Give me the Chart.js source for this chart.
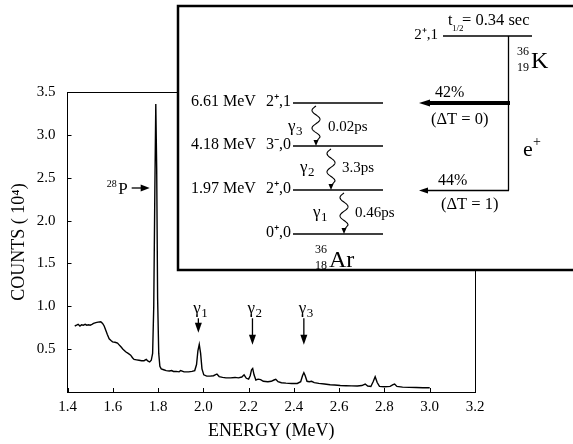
<!DOCTYPE html>
<html><head><meta charset="utf-8">
<script src="https://cdn.jsdelivr.net/npm/chart.js@4/dist/chart.umd.min.js"></script>
<style>html,body{margin:0;padding:0;background:#fff}</style>
</head><body>
<canvas id="c" width="573" height="444" style="display:block;width:573px;height:444px"></canvas>
<script>
// ---- spectrum data (energy in MeV, counts in units of 10^4) ----
const energy = [1.432,1.440,1.447,1.455,1.462,1.470,1.478,1.485,1.493,1.500,1.508,1.515,1.525,1.535,1.547,1.555,1.562,1.569,1.576,1.584,1.592,1.599,1.610,1.621,1.628,1.635,1.645,1.657,1.668,1.679,1.687,1.694,1.705,1.716,1.727,1.738,1.748,1.756,1.763,1.770,1.776,1.781,1.786,1.790,1.794,1.798,1.803,1.808,1.814,1.825,1.836,1.850,1.860,1.868,1.880,1.893,1.900,1.915,1.935,1.950,1.962,1.970,1.976,1.982,1.988,1.994,2.002,2.015,2.030,2.045,2.060,2.070,2.085,2.100,2.120,2.140,2.155,2.170,2.180,2.190,2.200,2.207,2.213,2.218,2.224,2.232,2.242,2.253,2.265,2.285,2.300,2.312,2.320,2.330,2.345,2.365,2.390,2.415,2.430,2.438,2.444,2.450,2.458,2.468,2.478,2.490,2.510,2.535,2.560,2.580,2.605,2.630,2.655,2.680,2.700,2.715,2.726,2.740,2.750,2.759,2.768,2.778,2.800,2.825,2.838,2.845,2.855,2.880,2.910,2.940,2.970,3.000];
const counts = [0.77,0.78,0.79,0.77,0.785,0.78,0.79,0.78,0.785,0.78,0.79,0.80,0.81,0.815,0.82,0.80,0.77,0.72,0.67,0.62,0.60,0.585,0.58,0.57,0.55,0.53,0.50,0.47,0.45,0.43,0.40,0.38,0.375,0.37,0.365,0.365,0.38,0.36,0.35,0.37,0.45,1.0,2.4,3.36,2.6,1.1,0.45,0.30,0.27,0.26,0.25,0.245,0.25,0.24,0.24,0.235,0.25,0.235,0.235,0.24,0.25,0.32,0.48,0.555,0.45,0.27,0.20,0.185,0.185,0.19,0.21,0.18,0.17,0.165,0.165,0.17,0.165,0.175,0.20,0.16,0.15,0.19,0.26,0.275,0.20,0.14,0.15,0.145,0.125,0.12,0.125,0.14,0.148,0.12,0.108,0.103,0.10,0.10,0.12,0.19,0.225,0.19,0.125,0.12,0.125,0.11,0.10,0.093,0.085,0.081,0.075,0.073,0.072,0.07,0.075,0.093,0.07,0.065,0.12,0.178,0.11,0.065,0.062,0.065,0.085,0.093,0.065,0.057,0.054,0.052,0.050,0.050];

const xTickLabels = ['1.4','1.6','1.8','2.0','2.2','2.4','2.6','2.8','3.0','3.2'];
const yTickLabels = ['0.5','1.0','1.5','2.0','2.5','3.0','3.5'];

// peak markers (energy, arrow tip height)
const gammaNames  = ['1','2','3'];
const gammaEnergy = [1.978, 2.217, 2.444];
const gammaTip    = [0.69, 0.55, 0.55];
const p28Energy = 1.763, p28Level = 2.38;

// level scheme text
const levelEnergyText = ['6.61 MeV','4.18 MeV','1.97 MeV',''];
const levelSpinText   = ['2\u207A,1','3\u207B,0','2\u207A,0','0\u207A,0'];
const lifetimeText    = ['0.02ps','3.3ps','0.46ps'];
const branchText      = ['42%','44%'];
const deltaTText      = ['(\u0394T = 0)','(\u0394T = 1)'];

const SERIF = '"Liberation Serif","Times New Roman",serif';
function txt(ctx, s, x, y, size, align, base){
  ctx.font = size + 'px ' + SERIF;
  ctx.textAlign = align || 'left';
  ctx.textBaseline = base || 'alphabetic';
  ctx.fillText(s, x, y);
}
function arrowHead(ctx, x, y, dx, dy, len, half){
  const px = -dy, py = dx;
  ctx.beginPath();
  ctx.moveTo(x, y);
  ctx.lineTo(x - dx*len + px*half, y - dy*len + py*half);
  ctx.lineTo(x - dx*len - px*half, y - dy*len - py*half);
  ctx.closePath(); ctx.fill();
}
function wavy(ctx, x, y0, y1){
  const wEnd = y1 - 9;
  ctx.beginPath();
  const n = 60;
  for (let i=0;i<=n;i++){
    const t=i/n, y=y0+(wEnd-y0)*t;
    const xx = x + 4*Math.sin(2*Math.PI*1.75*t + Math.PI);
    if(i===0) ctx.moveTo(xx,y); else ctx.lineTo(xx,y);
  }
  ctx.lineTo(x, y1-4);
  ctx.stroke();
  arrowHead(ctx, x, y1, 0, 1, 6, 2.5);
}

const decor = {
  id:'decor',
  afterDraw(chart){
    const ctx = chart.ctx, a = chart.chartArea;
    const xs = chart.scales.x, ys = chart.scales.y;
    ctx.save();
    ctx.strokeStyle = '#000'; ctx.fillStyle = '#000'; ctx.lineWidth = 1;
    // frame top & right
    ctx.beginPath();
    ctx.moveTo(a.left, a.top+0.5); ctx.lineTo(a.right+0.5, a.top+0.5); ctx.lineTo(a.right+0.5, a.bottom);
    ctx.stroke();
    // inward ticks
    ctx.beginPath();
    xTickLabels.forEach(t=>{ const px=Math.round(xs.getPixelForValue(parseFloat(t)))+0.5; ctx.moveTo(px,a.bottom); ctx.lineTo(px,a.bottom-4); });
    yTickLabels.forEach(t=>{ const py=Math.round(ys.getPixelForValue(parseFloat(t)))+0.5; ctx.moveTo(a.left,py); ctx.lineTo(a.left+4,py); });
    ctx.stroke();

    // gamma arrows
    ctx.lineWidth = 1.3;
    const tail = ys.getPixelForValue(0.86);
    gammaEnergy.forEach((e,i)=>{
      const px = xs.getPixelForValue(e), tip = ys.getPixelForValue(gammaTip[i]);
      ctx.beginPath(); ctx.moveTo(px, tail); ctx.lineTo(px, tip-6); ctx.stroke();
      arrowHead(ctx, px, tip, 0, 1, 10, 3.5);
      txt(ctx, '\u03B3', px-5, tail-5, 17, 'left');
      txt(ctx, gammaNames[i], px+3, tail-1, 13, 'left');
    });
    // 28P arrow
    const ax = xs.getPixelForValue(p28Energy), ay = ys.getPixelForValue(p28Level);
    ctx.beginPath(); ctx.moveTo(ax-18, ay); ctx.lineTo(ax-6, ay); ctx.stroke();
    arrowHead(ctx, ax, ay, 1, 0, 9, 3.5);
    txt(ctx, 'P', ax-22, ay+6, 17, 'right');
    txt(ctx, '28', ax-33, ay-1, 10, 'right');

    // ---------- inset ----------
    const L=178, T=6, R=576, B=270;
    ctx.fillStyle='#fff'; ctx.fillRect(L,T,R-L,B-T);
    ctx.fillStyle='#000';
    ctx.lineWidth = 2.5; ctx.strokeRect(L,T,R-L,B-T);

    // levels of 36Ar
    const lvY = [103,146,190,234];
    ctx.lineWidth = 1.3;
    lvY.forEach((y,i)=>{
      ctx.beginPath(); ctx.moveTo(293,y); ctx.lineTo(383,y); ctx.stroke();
      if(levelEnergyText[i]) txt(ctx, levelEnergyText[i], 191, y+3, 16, 'left');
      txt(ctx, levelSpinText[i], 291, y+3, 16, 'right');
    });
    // gamma transitions
    ctx.lineWidth = 1.1;
    wavy(ctx, 316, 106, 146);
    wavy(ctx, 331, 149, 190);
    wavy(ctx, 344, 193, 234);
    const gx=[288,300,313], gy=[131,172,217];
    ['3','2','1'].forEach((n,i)=>{ txt(ctx,'\u03B3',gx[i],gy[i],17,'left'); txt(ctx,n,gx[i]+8,gy[i]+4,13,'left'); });
    const lx=[328,342,355], ly=[131,172,217];
    lifetimeText.forEach((s,i)=>txt(ctx,s,lx[i],ly[i],15,'left'));
    // 36Ar label
    txt(ctx,'36',315,253,12,'left'); txt(ctx,'18',315,269,12,'left');
    txt(ctx,'Ar',329,267,24,'left');

    // 36K level
    ctx.lineWidth = 1.3;
    ctx.beginPath(); ctx.moveTo(443,36); ctx.lineTo(532,36); ctx.stroke();
    txt(ctx, '2\u207A,1', 438, 39, 15, 'right');
    txt(ctx, 't', 448, 25, 16, 'left'); txt(ctx, '1/2', 452, 31, 9, 'left');
    txt(ctx, '= 0.34 sec', 462, 25, 16.5, 'left');
    txt(ctx,'36',517,55,12,'left'); txt(ctx,'19',517,71,12,'left');
    txt(ctx,'K',531,68,24,'left');
    // decay line
    ctx.beginPath(); ctx.moveTo(508.5,36); ctx.lineTo(508.5,190.5); ctx.stroke();
    // 42% branch (thick)
    ctx.lineWidth = 4;
    ctx.beginPath(); ctx.moveTo(510,103); ctx.lineTo(428,103); ctx.stroke();
    arrowHead(ctx, 419, 103, -1, 0, 11, 3.5);
    // 44% branch
    ctx.lineWidth = 1.3;
    ctx.beginPath(); ctx.moveTo(509,190.5); ctx.lineTo(426,190.5); ctx.stroke();
    arrowHead(ctx, 419, 190.5, -1, 0, 9, 3);
    txt(ctx, branchText[0], 435, 97, 16, 'left');
    txt(ctx, deltaTText[0], 431, 124, 16.5, 'left');
    txt(ctx, branchText[1], 438, 185, 16, 'left');
    txt(ctx, deltaTText[1], 441, 209, 16.5, 'left');
    txt(ctx, 'e', 523, 156, 22, 'left'); txt(ctx, '+', 533, 146, 14, 'left');
    ctx.restore();
  }
};

new Chart(document.getElementById('c'), {
  type:'scatter',
  data:{ datasets:[{ data: energy.map((e,i)=>({x:e,y:counts[i]})), showLine:true, pointRadius:0, borderColor:'#000', borderWidth:1.4, tension:0 }]},
  options:{
    responsive:false, animation:false, devicePixelRatio:1,
    layout:{ padding:{ left:0, right:98, top:92, bottom:0 } },
    plugins:{ legend:{display:false}, tooltip:{enabled:false} },
    scales:{
      x:{ type:'linear', min:1.4, max:3.2,
        afterBuildTicks(s){ s.ticks = xTickLabels.map(t=>({value:parseFloat(t)})); },
        afterFit(s){ s.height = 52; },
        ticks:{ callback:(v)=>xTickLabels.find(t=>Math.abs(parseFloat(t)-v)<1e-6)||'', color:'#000', padding:6, font:{family:SERIF,size:15}, maxRotation:0 },
        grid:{ display:true, drawOnChartArea:false, drawTicks:false },
        border:{ display:true, color:'#000', width:1 },
        title:{ display:true, text:'ENERGY (MeV)', color:'#000', font:{family:SERIF,size:18}, padding:{top:0,bottom:2} }
      },
      y:{ type:'linear', min:0, max:3.5,
        afterBuildTicks(s){ s.ticks = yTickLabels.map(t=>({value:parseFloat(t)})); },
        afterFit(s){ s.width = 67.5; },
        ticks:{ callback:(v)=>yTickLabels.find(t=>Math.abs(parseFloat(t)-v)<1e-6)||'', color:'#000', padding:12, font:{family:SERIF,size:15} },
        grid:{ display:true, drawOnChartArea:false, drawTicks:false },
        border:{ display:true, color:'#000', width:1 },
        title:{ display:true, text:'COUNTS ( 10\u2074)', color:'#000', font:{family:SERIF,size:18}, padding:{top:8,bottom:0} }
      }
    }
  },
  plugins:[decor]
});
</script>
</body></html>
